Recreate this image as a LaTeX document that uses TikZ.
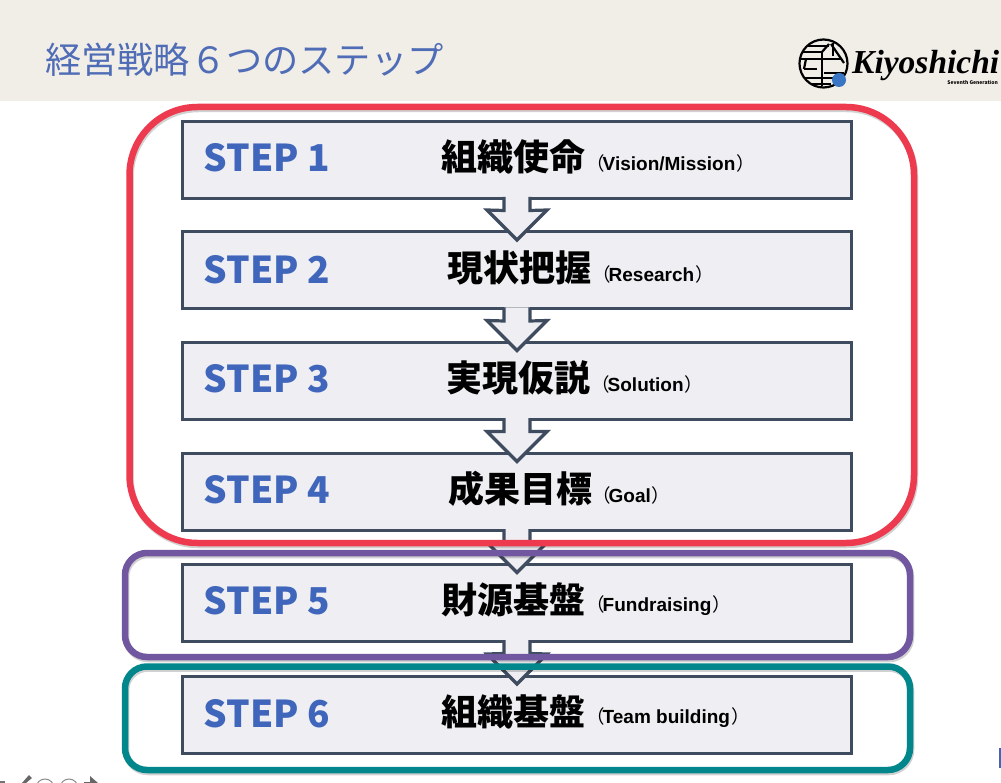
\documentclass[tikz,border=0pt]{standalone}
\usepackage{fontspec}
\usepackage{tikz}
\newfontfamily\jpfont{Noto Sans CJK JP}
\newfontfamily\latinfont{Liberation Sans}
\newfontfamily\logofont{Liberation Serif}
\newcommand{\noteword}[1]{\hspace{-2pt}{\latinfont\bfseries\fontsize{19}{19}\selectfont #1}\hspace{1pt}}
\definecolor{headbg}{HTML}{F1EDE7}
\definecolor{titleblue}{HTML}{4F6CB6}
\definecolor{stepblue}{HTML}{4066BC}
\definecolor{boxline}{HTML}{3F4C60}
\definecolor{boxfill}{HTML}{EFEFF3}
\definecolor{framered}{HTML}{EE3A4F}
\definecolor{framepurple}{HTML}{71579F}
\definecolor{frameteal}{HTML}{00868B}
\tikzset{
  stepbox/.style={draw=boxline, fill=boxfill, line width=3pt, outer sep=0pt, inner sep=0pt, minimum width=669pt, minimum height=77pt},
  steptag/.style={anchor=west, inner sep=0pt, text=stepblue, font=\jpfont\bfseries\fontsize{37}{37}\selectfont},
  stepname/.style={anchor=west, inner sep=0pt, text=black, font=\jpfont\bfseries\fontsize{36}{36}\selectfont},
  stepnote/.style={anchor=west, inner sep=0pt, text=black, font=\jpfont\fontsize{18.5}{18.5}\selectfont},
  framebox/.style={line width=6.5pt, rounded corners=#1},
  frameshade/.style={black, opacity=0.18, line width=6.5pt, rounded corners=#1},
  logoline/.style={black, line width=2.2pt},
  steparrow/.style={draw=boxline, fill=boxfill, line width=3.2pt, miter limit=10, to path={
    ([shift={(-13pt,1.5pt)}]\tikztostart.south) -- ([shift={(-13pt,-12pt)}]\tikztostart.south)
    -- ([shift={(-30pt,22pt)}]\tikztotarget.north) -- ([yshift=-8pt]\tikztotarget.north)
    -- ([shift={(30pt,22pt)}]\tikztotarget.north) -- ([shift={(13pt,-12pt)}]\tikztostart.south)
    -- ([shift={(13pt,1.5pt)}]\tikztostart.south)}},
}
\begin{document}
\begin{tikzpicture}[x=1pt, y=-1pt]
        \useasboundingbox (0,0) rectangle (1001,783);
        \fill[white] (0,0) rectangle (1001,783);
        \fill[headbg] (0,0) rectangle (1001,101);

        \node[anchor=west, inner sep=0pt, text=titleblue, font=\jpfont\fontsize{36.2}{36.2}\selectfont] (title) at (45,60) {経営戦略６つのステップ};

        % logo
        \begin{scope}
          \clip (823.5,63.5) circle (24);
          \draw[logoline] (802,46) -- (829,46);
          \draw[logoline] (801,52) -- (822,52);
          \draw[logoline] (799,59) -- (821,59);
          \draw[logoline] (804,69) -- (817,69);
          \draw[logoline] (806,59) -- (804,69);
          \draw[logoline] (824,73) -- (844,73);
          \draw[logoline] (804,78) -- (834,78);
          \draw[logoline] (812,84) -- (831,84);
          \draw[logoline] (829,44) -- (822,52);
          \draw[logoline] (831,44) -- (844,63);
          \draw[logoline] (822,52) -- (822,86);
          \draw[logoline] (833,43) -- (833,56);
          \draw[logoline] (822,59) -- (842,59);
        \end{scope}
        \draw[logoline] (823.5,63.5) circle (24);
        \fill[stepblue!90!cyan] (839,80) circle (7);
        \node[anchor=west, inner sep=0pt, font=\logofont\bfseries\itshape\fontsize{33.5}{33.5}\selectfont] (logotext) at (852,65) {Kiyoshichi};
        \node[anchor=east, inner sep=0pt, font=\jpfont\bfseries\fontsize{5}{5}\selectfont] (logonote) at (998,82) {Seventh Generation};

        % steps
        \node[stepbox] (s1) at (517,160) {};
        \node[stepbox] (s2) at (517,270.5) {};
        \node[stepbox] (s3) at (517,381) {};
        \node[stepbox] (s4) at (517,492) {};
        \node[stepbox] (s5) at (517,603) {};
        \node[stepbox] (s6) at (517,714.5) {};

        \draw[steparrow] (s1) to (s2);
        \draw[steparrow] (s2) to (s3);
        \draw[steparrow] (s3) to (s4);
        \draw[steparrow] (s4) to (s5);
        \draw[steparrow] (s5) to (s6);

        \node[steptag] (t1) at (203.5,158) {STEP 1};
        \node[steptag] (t2) at (203.5,270) {STEP 2};
        \node[steptag] (t3) at (203.5,379) {STEP 3};
        \node[steptag] (t4) at (203.5,490) {STEP 4};
        \node[steptag] (t5) at (203.5,601) {STEP 5};
        \node[steptag] (t6) at (203.5,714) {STEP 6};

        \node[stepname] (n1) at (441,157) {組織使命};
        \node[stepname] (n2) at (447,268) {現状把握};
        \node[stepname] (n3) at (446.5,378) {実現仮説};
        \node[stepname] (n4) at (448,489) {成果目標};
        \node[stepname] (n5) at (441,600) {財源基盤};
        \node[stepname] (n6) at (441,712) {組織基盤};

        \node[stepnote] (m1) at (586,163) {（\noteword{Vision/Mission}）};
        \node[stepnote] (m2) at (592,274) {（\noteword{Research}）};
        \node[stepnote] (m3) at (591,384) {（\noteword{Solution}）};
        \node[stepnote] (m4) at (592,495) {（\noteword{Goal}）};
        \node[stepnote] (m5) at (586,606) {（\noteword{Fundraising}）};
        \node[stepnote] (m6) at (586,718) {（\noteword{Team building}）};

        % frames
        \draw[frameshade=68pt] (130.5,109) rectangle (915,545);
        \draw[frameshade=22pt] (126,555) rectangle (911,659);
        \draw[frameshade=22pt] (126,668.5) rectangle (911,772);
        \draw[framebox=68pt, framered] (129.5,107) rectangle (914,543);
        \draw[framebox=22pt, framepurple] (125,553) rectangle (910,657);
        \draw[framebox=22pt, frameteal] (125,666.5) rectangle (910,770);

        % slide controls at the edges
        \fill[black!55] (0,781) rectangle (5,783);
        \fill[black!60] (22,783) -- (29,775) -- (32,778) -- (26,783) -- cycle;
        \draw[black!45, line width=1pt] (45,788) circle (9);
        \draw[black!45, line width=1pt] (69,788) circle (9);
        \draw[black!60, line width=1.5pt] (84,783) -- (96,783);
        \fill[black!60] (90,776) -- (98,783) -- (90,783) -- cycle;
        \fill[stepblue] (999,748) rectangle (1001,768);
\end{tikzpicture}
\end{document}
